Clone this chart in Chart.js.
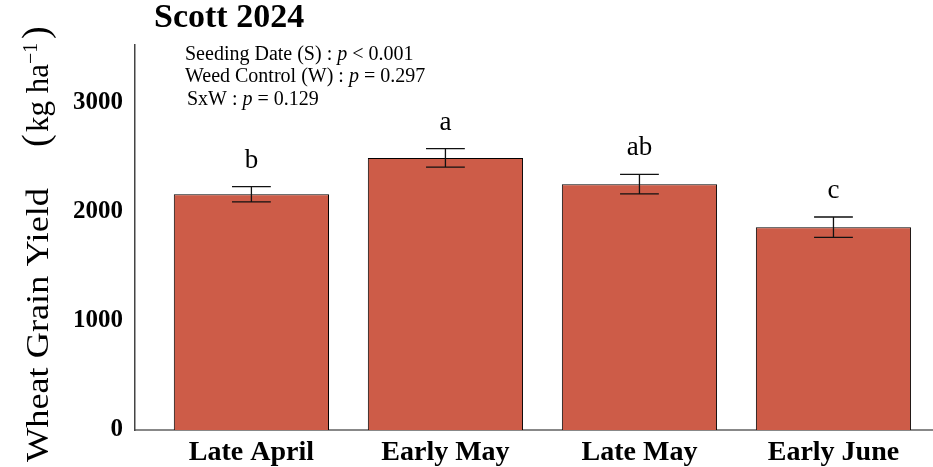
<!DOCTYPE html>
<html>
<head>
<meta charset="utf-8">
<script src="https://cdn.jsdelivr.net/npm/chart.js@4"></script>
<style>
  html, body { margin: 0; padding: 0; background: #fff; overflow: hidden; }
</style>
</head>
<body>
<canvas id="yieldChart" width="933" height="467"></canvas>
<script>
// Scott 2024 wheat yield by seeding date
const seedingDates = ["Late April", "Early May", "Late May", "Early June"];
const yieldMeans = [2162, 2495, 2254, 1860];
const yieldSE = [70, 84, 89, 93];
const groupLetters = ["b", "a", "ab", "c"];
const yTickValues = [0, 1000, 2000, 3000];
const statLines = [
  ["Seeding Date (S) : ", "p", " < 0.001"],
  ["Weed Control (W) : ", "p", " = 0.297"],
  ["SxW : ", "p", " = 0.129"]
];

const serif = "'Liberation Serif', 'DejaVu Serif', serif";
const barColor = "rgb(205, 92, 72)";

// error bars + mean separation letters on top of the bars
const errorBarPlugin = {
  id: "errorBars",
  afterDatasetsDraw(chart) {
    const ctx = chart.ctx;
    const yScale = chart.scales.y;
    const meta = chart.getDatasetMeta(0);
    ctx.save();
    meta.data.forEach((bar, i) => {
      const hi = yScale.getPixelForValue(yieldMeans[i] + yieldSE[i]);
      const lo = yScale.getPixelForValue(yieldMeans[i] - yieldSE[i]);
      const half = bar.width / 8;
      ctx.strokeStyle = "#111";
      ctx.lineWidth = 1.3;
      ctx.beginPath();
      ctx.moveTo(bar.x, hi); ctx.lineTo(bar.x, lo);
      ctx.moveTo(bar.x - half, hi); ctx.lineTo(bar.x + half, hi);
      ctx.moveTo(bar.x - half, lo); ctx.lineTo(bar.x + half, lo);
      ctx.stroke();

      ctx.fillStyle = "#000";
      ctx.font = "27px " + serif;
      ctx.textAlign = "center";
      ctx.textBaseline = "alphabetic";
      ctx.fillText(groupLetters[i], bar.x, hi - 19);
    });
    ctx.restore();
  }
};

// title, p-value block and the rotated y title
const textPlugin = {
  id: "extraText",
  afterDraw(chart) {
    const ctx = chart.ctx;
    ctx.save();
    ctx.fillStyle = "#000";
    ctx.textBaseline = "alphabetic";
    ctx.textAlign = "left";

    ctx.font = "bold 34px " + serif;
    ctx.fillText("Scott 2024", 154, 27);

    const starts = [[185, 60], [185, 82], [187, 105]];
    statLines.forEach((parts, i) => {
      let x = starts[i][0];
      parts.forEach((txt, j) => {
        ctx.font = (j === 1 ? "italic " : "") + "20px " + serif;
        ctx.fillText(txt, x, starts[i][1]);
        x += ctx.measureText(txt).width;
      });
    });

    // y axis title, drawn bottom to top
    ctx.translate(48, 462);
    ctx.rotate(-Math.PI / 2);
    ctx.font = "31px " + serif;
    const main = "Wheat Grain Yield";
    const w = ctx.measureText(main).width;
    ctx.save();
    ctx.scale(274 / w, 1);
    ctx.fillText(main, 0, 0);
    ctx.restore();
    ctx.font = "38px " + serif;
    ctx.fillText("(", 315, 0);
    ctx.font = "31px " + serif;
    ctx.fillText("kg ha", 330, 0);
    ctx.font = "20px " + serif;
    ctx.fillText("\u22121", 398, -11);
    ctx.font = "38px " + serif;
    ctx.fillText(")", 423, 0);
    ctx.restore();
  }
};

new Chart(document.getElementById("yieldChart"), {
  type: "bar",
  data: {
    datasets: [{
      data: yieldMeans.map((v, i) => ({ x: i + 1, y: v })),
      backgroundColor: barColor,
      borderColor: "#000",
      borderWidth: 1,
      barPercentage: 0.8,
      categoryPercentage: 1.0
    }]
  },
  options: {
    responsive: false,
    animation: false,
    devicePixelRatio: 1,
    layout: { padding: { top: 45, left: 0, right: 0, bottom: 0 } },
    plugins: { legend: { display: false }, tooltip: { enabled: false } },
    scales: {
      x: {
        type: "linear",
        offset: false,
        min: 0.4,
        max: 4.513,
        grid: { display: false, offset: false },
        border: { display: true, color: "#888", width: 2 },
        afterBuildTicks: scale => { scale.ticks = seedingDates.map((d, i) => ({ value: i + 1 })); },
        afterFit: scale => { scale.height = 37; },
        ticks: {
          color: "#000",
          padding: -2,
          maxRotation: 0,
          font: { family: serif, size: 28, weight: "bold" },
          callback: v => seedingDates[v - 1]
        }
      },
      y: {
        min: 0,
        max: 3530,
        grid: { display: false },
        border: { display: true, color: "#444", width: 1.5 },
        afterBuildTicks: scale => { scale.ticks = yTickValues.map(v => ({ value: v })); },
        afterFit: scale => { scale.width = 135; },
        ticks: {
          color: "#000",
          padding: 4,
          font: { family: serif, size: 25, weight: "bold" },
          callback: v => String(v)
        }
      }
    }
  },
  plugins: [errorBarPlugin, textPlugin]
});
</script>
</body>
</html>
